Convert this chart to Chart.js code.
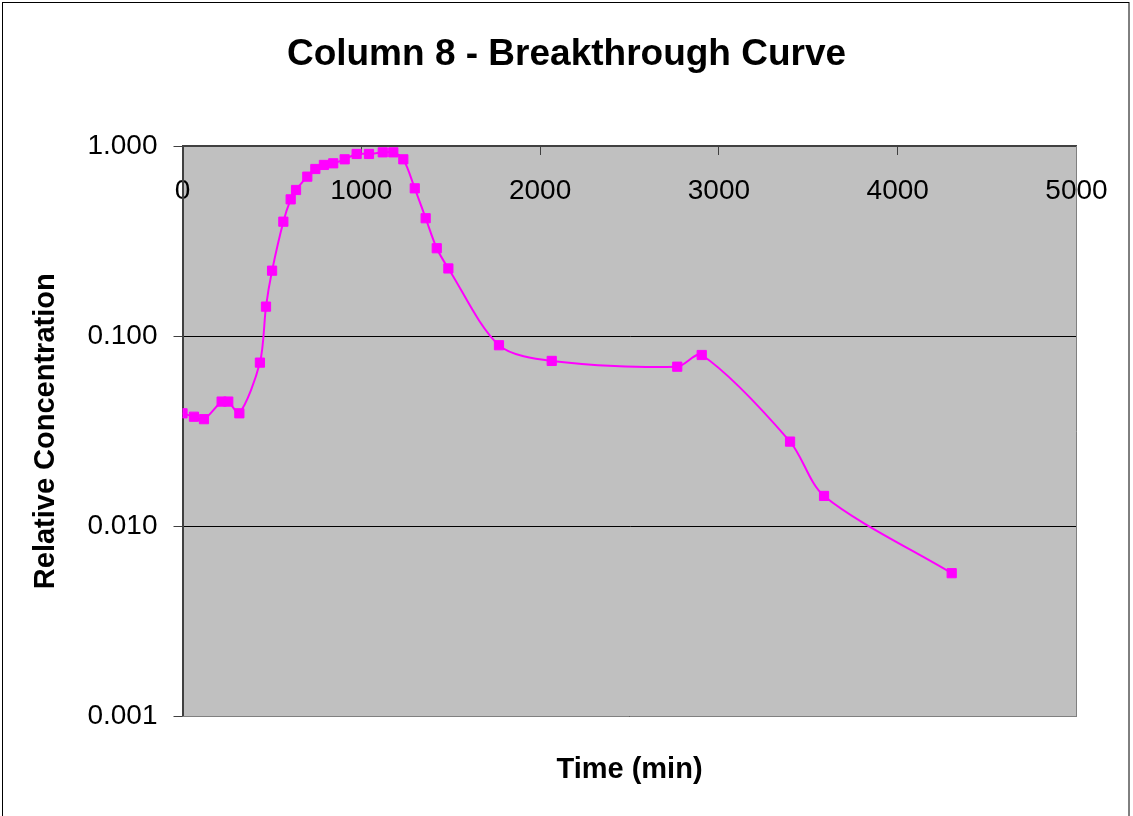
<!DOCTYPE html>
<html>
<head>
<meta charset="utf-8">
<title>Column 8 - Breakthrough Curve</title>
<script src="https://cdn.jsdelivr.net/npm/chart.js@4"></script>
<style>
  html, body { margin: 0; padding: 0; background: #fff; }
  canvas { display: block; }
</style>
</head>
<body>
<canvas id="myChart" width="1133" height="816"></canvas>
<script>
// Values
const times = [0, 64, 120, 219, 256, 318, 433, 467, 501, 564, 605, 635, 698, 743, 791, 843, 907, 974, 1043, 1120, 1179, 1235, 1299, 1360, 1422, 1487, 1770, 2065, 2767, 2904, 3398, 3588, 4302]
const concentrations = [0.0393, 0.0377, 0.0366, 0.0453, 0.0453, 0.0393, 0.0726, 0.143, 0.221, 0.400, 0.524, 0.587, 0.690, 0.757, 0.795, 0.811, 0.851, 0.908, 0.908, 0.926, 0.926, 0.851, 0.599, 0.417, 0.290, 0.227, 0.0896, 0.0741, 0.0691, 0.0796, 0.0279, 0.01445, 0.00567]
const xTicks = [0, 1000, 2000, 3000, 4000, 5000]
const yTicks = [0.001, 0.01, 0.1, 1]

const main = () => {

    // Make points
    const points = []
    for (let i = 0; i < times.length; i++) {
        points.push({x: times[i], y: concentrations[i]})
    }

    // Grey plot area, thin plot border and outer chart frame
    const plotArea = {
        id: 'plotArea',
        beforeDraw(chart) {
            const {ctx, chartArea: a} = chart
            ctx.save()
            ctx.fillStyle = '#c0c0c0'
            ctx.fillRect(a.left, a.top, a.width, a.height)
            ctx.strokeStyle = '#000'
            ctx.lineWidth = 1
            ctx.strokeRect(2.5, 2.5, 1126.5, 830)
            ctx.restore()
        },
        beforeDatasetsDraw(chart) {
            const {ctx, chartArea: a} = chart
            ctx.save()
            ctx.strokeStyle = '#808080'
            ctx.lineWidth = 1
            ctx.beginPath()
            ctx.moveTo(a.right, a.top)
            ctx.lineTo(a.right, a.bottom)
            ctx.lineTo(a.left, a.bottom)
            ctx.stroke()
            ctx.restore()
        }
    }

    Chart.defaults.font.family = '"Liberation Sans", Arial, sans-serif'
    Chart.defaults.color = '#000'

    const ctx = document.getElementById('myChart').getContext('2d')
    const myChart = new Chart(ctx, {
        type: 'line',
        data: {
            datasets: [{
                label: 'Column 8',
                data: points,
                borderColor: '#ff00ff',
                borderWidth: 2,
                backgroundColor: '#ff00ff',
                pointStyle: 'rect',
                pointRadius: 6.5,
                pointBorderWidth: 1,
                pointBorderColor: '#ff00ff',
                pointBackgroundColor: '#ff00ff',
                tension: 0.3,
                fill: false
            }]
        },
        options: {
            responsive: false,
            animation: false,
            devicePixelRatio: 1,
            layout: { padding: { top: 0, left: 3, right: 3, bottom: 0 } },
            plugins: {
                legend: { display: false },
                tooltip: { enabled: false },
                title: {
                    display: true,
                    text: 'Column 8 - Breakthrough Curve',
                    color: '#000',
                    font: { size: 37, weight: 'bold' },
                    padding: { top: 32.8, bottom: 58.8 }
                }
            },
            scales: {
                x: {
                    type: 'linear',
                    position: 'top',
                    min: 0,
                    max: 5000,
                    afterBuildTicks: s => { s.ticks = xTicks.map(v => ({value: v})) },
                    afterFit: s => { s.height = 10; s.paddingLeft = 0; s.paddingRight = 0 },
                    grid: { drawOnChartArea: false, drawTicks: true, tickLength: -9, tickColor: '#404040', tickWidth: 1 },
                    border: { color: '#404040', width: 2 },
                    // labels sit inside the plot, just under the top axis line
                    ticks: { mirror: true, padding: 28, font: { size: 28 }, color: '#000', maxRotation: 0, autoSkip: false, callback: v => String(v) }
                },
                x2: {
                    type: 'linear',
                    position: 'bottom',
                    min: 0,
                    max: 1,
                    afterFit: s => { s.height = 99.5 },
                    grid: { display: false },
                    border: { display: false },
                    ticks: { display: false },
                    title: {
                        display: true,
                        text: 'Time (min)',
                        color: '#000',
                        font: { size: 29, weight: 'bold' },
                        padding: { top: 0, bottom: 28.6 }
                    }
                },
                y: {
                    type: 'logarithmic',
                    position: 'left',
                    min: 0.001,
                    max: 1,
                    afterBuildTicks: s => { s.ticks = yTicks.map(v => ({value: v})) },
                    afterFit: s => { s.width = 179.5 },
                    grid: { color: '#000', lineWidth: 1, tickLength: 9, tickColor: '#404040' },
                    border: { color: '#404040', width: 2 },
                    ticks: { padding: 16, font: { size: 28 }, color: '#000', autoSkip: false, callback: v => Number(v).toFixed(3) },
                    title: {
                        display: true,
                        text: 'Relative Concentration',
                        color: '#000',
                        font: { size: 29, weight: 'bold' },
                        padding: { top: 25.6, bottom: 0 }
                    }
                },
                y2: {
                    type: 'linear',
                    position: 'right',
                    afterFit: s => { s.width = 53.5 },
                    grid: { display: false },
                    border: { display: false },
                    ticks: { display: false }
                }
            }
        },
        plugins: [plotArea]
    })

}
main()
</script>
</body>
</html>
